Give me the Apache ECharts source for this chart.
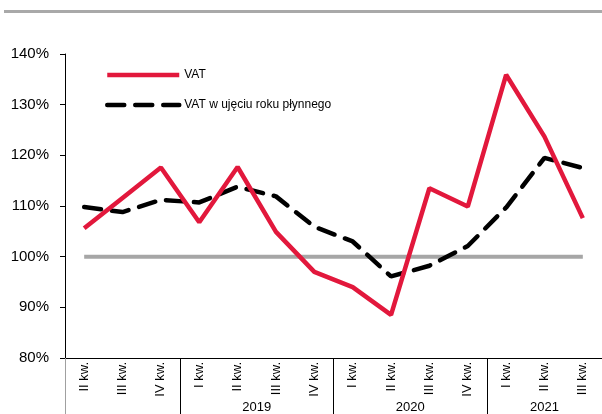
<!DOCTYPE html>
<html>
<head>
<meta charset="utf-8">
<script src="https://cdn.jsdelivr.net/npm/echarts@6/dist/echarts.min.js"></script>
<style>
  html, body { margin: 0; padding: 0; background: #fff; }
  #chart { width: 602px; height: 414px; }
</style>
</head>
<body>
<div id="chart"></div>
<script>
// kwartały (oś X)
const quarters = ['II kw.', 'III kw.', 'IV kw.', 'I kw.', 'II kw.', 'III kw.', 'IV kw.',
  'I kw.', 'II kw.', 'III kw.', 'IV kw.', 'I kw.', 'II kw.', 'III kw.']
// lata i liczba kwartałów w każdej grupie
const years = ['', '2019', '2020', '2021']
const quartersPerYear = [3, 4, 4, 3]

const vat = [105.6, 111.6, 117.6, 106.8, 117.7, 104.9, 97.0, 94.0, 88.5, 113.5, 109.9, 135.9, 123.7, 107.6]
const vatRolling = [109.8, 108.8, 111.2, 110.7, 113.8, 111.9, 105.9, 103.0, 96.1, 98.2, 102.1, 109.7, 119.5, 117.5]
const baseline = [100, 100, 100, 100, 100, 100, 100, 100, 100, 100, 100, 100, 100, 100]

const yTicks = [80, 90, 100, 110, 120, 130, 140]

// granice grup lat i środki etykiet (w jednostkach kategorii)
const bounds = []
const centers = []
let acc = 0
quartersPerYear.forEach(n => {
  bounds.push(acc)
  centers.push(acc + n / 2)
  acc += n
})

const font = "'Liberation Sans', Arial, sans-serif"
const chart = echarts.init(document.getElementById('chart'), null, {renderer: 'canvas'})

const option = {
  animation: false,
  textStyle: {fontFamily: font},
  grid: {left: 65, right: -4, top: 54, bottom: 56, containLabel: false},
  graphic: [{
    type: 'rect',
    shape: {x: 4, y: 10, width: 600, height: 3},
    style: {fill: '#a9a9a9'}
  }],
  legend: {
    data: ['VAT', 'VAT w ujęciu roku płynnego'],
    orient: 'vertical',
    left: 100,
    top: 64,
    itemWidth: 72,
    itemHeight: 14,
    itemGap: 18,
    itemStyle: {opacity: 0},  // bez kółka na ikonie, tylko linia
    lineStyle: {width: 4.5},
    textStyle: {fontFamily: font, fontSize: 12, color: '#000'}
  },
  xAxis: [
    {
      type: 'category',
      data: quarters,
      boundaryGap: true,
      axisLine: {lineStyle: {color: '#000', width: 1}},
      axisTick: {interval: 0, length: 39, lineStyle: {color: '#000'}},
      axisLabel: {interval: 0, rotate: 90, margin: 4, fontSize: 13, color: '#000', fontFamily: font}
    },
    {
      // druga linia osi: lata
      type: 'value',
      position: 'bottom',
      min: 0,
      max: 14,
      splitLine: {show: false},
      axisLine: {show: false},
      axisTick: {show: true, length: 56, customValues: bounds.slice(1), lineStyle: {color: '#000'}},
      axisLabel: {
        show: true,
        margin: 43,
        fontSize: 13,
        color: '#000',
        fontFamily: font,
        customValues: centers.slice(1),
        formatter: v => years[centers.indexOf(v)]
      }
    },
    {
      type: 'value',
      position: 'bottom',
      min: 0,
      max: 14,
      splitLine: {show: false},
      axisLine: {show: false},
      axisTick: {show: true, length: 56, customValues: [bounds[0]], lineStyle: {color: '#a0a0a0'}},
      axisLabel: {show: false}
    }
  ],
  yAxis: {
    type: 'value',
    min: yTicks[0],
    max: yTicks[yTicks.length - 1],
    interval: 10,
    splitLine: {show: false},
    axisLine: {show: true, lineStyle: {color: '#000', width: 1}},
    axisTick: {show: true, length: 5, lineStyle: {color: '#000'}},
    axisLabel: {margin: 16, fontSize: 15, color: '#000', fontFamily: font, formatter: '{value}%'}
  },
  series: [
    {
      name: '100%',
      type: 'line',
      data: baseline,
      symbol: 'none',
      silent: true,
      lineStyle: {color: '#a6a6a6', width: 4}
    },
    {
      name: 'VAT w ujęciu roku płynnego',
      type: 'line',
      data: vatRolling,
      symbol: 'none',
      color: '#000',
      lineStyle: {color: '#000', width: 4.5, type: [17, 11], cap: 'round'}
    },
    {
      name: 'VAT',
      type: 'line',
      data: vat,
      symbol: 'none',
      color: '#e2183c',
      lineStyle: {color: '#e2183c', width: 4.5}
    }
  ]
}

chart.setOption(option)
</script>
</body>
</html>
